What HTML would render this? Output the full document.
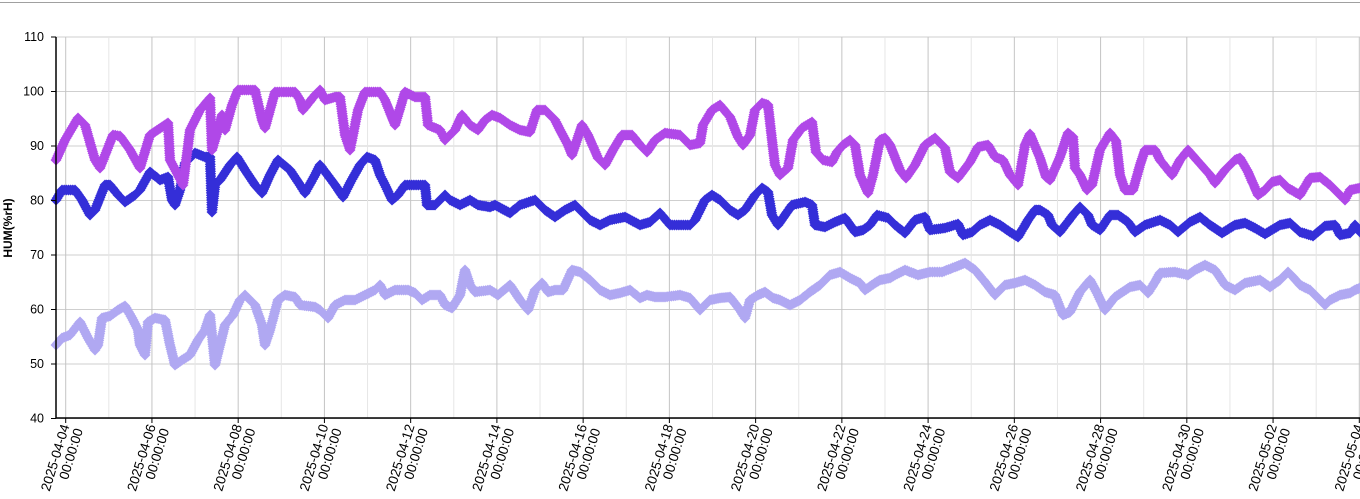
<!DOCTYPE html>
<html><head><meta charset="utf-8"><style>
html,body{margin:0;padding:0;background:#fff;}
svg{display:block;font-family:"Liberation Sans",Arial,sans-serif;}
</style></head><body>
<svg id="c" width="1360" height="499" xmlns="http://www.w3.org/2000/svg">
<line x1="0" y1="2.5" x2="1360" y2="2.5" stroke="#a0a0a0" stroke-width="1"/>
<g id="grid"></g>
<g id="series"></g>
<g id="axes"></g>
<text transform="translate(12,228) rotate(-90)" text-anchor="middle" font-size="12" font-weight="bold" fill="#000">HUM(%rH)</text>
</svg>
<script>
var NS="http://www.w3.org/2000/svg";
function el(t,a,p,txt){var e=document.createElementNS(NS,t);for(var k in a)e.setAttribute(k,a[k]);if(txt!==undefined)e.textContent=txt;p.appendChild(e);return e;}
var grid=document.getElementById('grid'),axes=document.getElementById('axes'),ser=document.getElementById('series');
var top0=37,per=54.5,bottom=418;
for(var k=0;k<=7;k++){var y=top0+k*per;
 el('line',{x1:56,y1:y,x2:1360,y2:y,stroke:'#cfcfcf','stroke-width':1},grid);
 el('line',{x1:51,y1:y,x2:56,y2:y,stroke:'#000','stroke-width':1},axes);
 el('text',{x:44,y:y+4,'text-anchor':'end','font-size':12.5,fill:'#000'},axes,String(110-10*k));
}
var x0=65.7,day=43.12;
var dates=['04-04','04-06','04-08','04-10','04-12','04-14','04-16','04-18','04-20','04-22','04-24','04-26','04-28','04-30','05-02','05-04'];
for(var d=0;d<=30;d++){var x=x0+d*day;
 el('line',{x1:x,y1:top0,x2:x,y2:bottom,stroke:d%2==0?'#c4c4c4':'#e6e6e6','stroke-width':1},grid);
 if(d%2==0){
  el('line',{x1:x,y1:bottom,x2:x,y2:bottom+5,stroke:'#000','stroke-width':1},axes);
  var t=el('text',{transform:'translate('+(x+4)+','+(bottom+8)+') rotate(-73)','text-anchor':'end','font-size':13.5,fill:'#000'},axes);
  el('tspan',{x:0,dy:0},t,'2025-'+dates[d/2]);
  el('tspan',{x:0,dy:14},t,'00:00:00');
 }
}
el('line',{x1:56,y1:top0,x2:56,y2:bottom,stroke:'#000','stroke-width':1.5},axes);
el('line',{x1:56,y1:bottom,x2:1360,y2:bottom,stroke:'#000','stroke-width':1.5},axes);

var P=[56,160,65,140,78,118,85,125,95,160,100,168,113,135,120,136,130,150,140,168,150,135,162,127,168,123,170,160,178,175,183,185,190,130,200,110,210,98,212,150,218,130,222,115,225,130,232,105,238,90,255,90,262,120,265,128,275,92,295,92,300,100,303,110,315,95,320,90,325,100,335,97,340,97,345,135,350,150,358,110,365,92,380,92,385,100,395,125,405,92,415,97,425,97,428,125,440,130,445,140,455,130,462,115,470,125,478,130,485,120,492,115,500,118,510,125,520,130,530,132,537,110,545,110,555,120,560,130,568,145,572,155,577,140,582,125,588,135,598,158,605,165,613,150,622,135,632,135,640,145,647,152,655,140,665,133,680,135,690,145,700,143,703,125,712,110,720,105,730,117,738,137,743,145,750,135,755,110,762,103,768,105,772,140,775,165,780,175,788,168,793,140,802,128,812,122,816,152,823,160,832,162,837,152,843,145,850,140,855,145,860,175,868,193,873,175,880,140,885,138,890,145,900,170,906,178,915,165,925,145,935,138,945,148,950,172,958,178,970,162,978,147,988,145,995,157,1003,160,1010,175,1018,185,1025,145,1030,134,1040,158,1046,177,1050,180,1060,157,1068,133,1073,137,1075,168,1080,175,1087,190,1092,185,1100,150,1110,133,1116,141,1120,175,1125,190,1133,190,1140,165,1145,150,1155,150,1160,160,1172,175,1180,160,1188,150,1195,158,1210,175,1215,183,1225,170,1235,160,1240,158,1248,172,1258,195,1265,190,1272,182,1280,180,1288,188,1300,195,1310,178,1320,177,1330,185,1345,200,1350,190,1360,188];
var B=[56,200,62,190,75,190,82,200,90,215,95,210,105,185,110,185,118,195,125,202,135,195,140,190,150,172,160,180,168,177,172,200,175,205,180,190,185,163,195,153,205,157,210,157,212,212,215,185,220,180,230,165,237,157,245,170,255,185,262,193,270,175,278,160,290,170,300,185,305,193,315,175,320,165,335,185,343,197,350,183,360,165,367,157,375,160,380,175,385,185,392,200,398,195,405,185,425,185,427,205,435,205,445,195,450,200,460,205,470,200,478,205,490,207,495,205,510,213,520,205,535,200,545,210,555,217,565,210,575,205,590,220,600,225,610,220,625,217,640,225,650,222,660,213,670,225,690,225,695,220,705,200,712,195,720,200,730,210,738,215,745,210,755,195,762,188,768,192,772,215,778,225,785,215,792,205,805,202,812,205,815,225,825,227,835,222,845,218,855,232,863,230,870,225,877,215,888,218,895,225,905,233,915,220,925,217,930,230,945,228,958,224,963,235,972,232,980,225,990,220,1000,225,1010,232,1018,237,1028,220,1035,210,1040,210,1048,215,1052,225,1060,232,1073,215,1080,207,1088,215,1092,225,1100,230,1110,215,1118,215,1128,222,1135,232,1145,225,1160,220,1170,225,1178,232,1190,222,1200,217,1210,225,1222,233,1235,225,1245,223,1255,228,1265,234,1280,225,1290,223,1300,232,1313,236,1325,226,1335,225,1340,235,1350,233,1355,225,1360,232];
var L=[56,345,62,338,70,335,80,322,88,338,95,350,98,345,102,318,110,316,118,310,125,306,132,318,138,330,140,345,145,355,148,322,155,318,165,320,170,345,175,365,182,360,190,355,198,340,205,330,210,315,212,335,215,365,220,345,225,325,233,315,240,300,245,295,255,305,262,325,265,345,270,330,278,300,285,295,295,297,300,305,315,307,320,310,328,318,335,305,345,300,355,300,375,290,380,285,385,295,395,290,408,290,415,293,422,300,430,295,440,295,445,305,452,308,460,295,465,270,470,285,475,292,490,290,498,295,510,285,520,300,528,310,535,290,542,283,548,292,555,290,563,290,572,270,580,272,590,280,600,290,610,295,620,293,630,290,640,298,647,295,655,297,665,297,680,295,690,298,700,310,710,300,720,298,730,297,740,310,745,318,750,300,758,295,765,292,773,298,780,300,790,305,800,300,810,292,820,285,830,275,840,272,850,278,860,283,865,290,875,283,880,280,890,278,895,275,905,270,918,275,930,272,942,272,955,267,965,263,975,270,985,282,995,295,1005,285,1015,283,1025,280,1035,285,1045,292,1055,295,1063,315,1070,312,1080,292,1090,280,1097,293,1105,310,1115,297,1130,287,1140,285,1148,293,1155,282,1160,273,1175,272,1188,275,1195,270,1205,265,1215,270,1225,285,1235,290,1245,283,1260,280,1270,287,1280,280,1288,272,1293,277,1300,285,1310,290,1320,300,1325,305,1330,300,1340,295,1350,293,1355,290,1360,288];
function draw(a,col,lc){
 var line='M'+a[0]+' '+a[1],d='';
 for(var i=2;i<a.length;i+=2)line+=' L'+a[i]+' '+a[i+1];
 el('path',{d:line,fill:'none',stroke:lc,'stroke-width':1.5},ser);
 var s=5.5;
 for(var i=0;i<a.length-2;i+=2){
  var xa=a[i],ya=a[i+1],xb=a[i+2],yb=a[i+3];
  var len=Math.hypot(xb-xa,yb-ya),n=Math.max(1,Math.ceil(len/2.4));
  for(var j=0;j<n;j++){var t=j/n,x=xa+(xb-xa)*t,y=ya+(yb-ya)*t;
   d+='M'+x.toFixed(1)+' '+(y-s).toFixed(1)+'l'+s+' '+s+'l-'+s+' '+s+'l-'+s+' -'+s+'z';}
 }
 d+='M'+a[a.length-2]+' '+(a[a.length-1]-s)+'l'+s+' '+s+'l-'+s+' '+s+'l-'+s+' -'+s+'z';
 el('path',{d:d,fill:col},ser);
}
draw(L,'#b0a8f2','#c6c0f6');
draw(B,'#342ed8','#6a66e0');
draw(P,'#b048e8','#cc88f0');
</script>
</body></html>
